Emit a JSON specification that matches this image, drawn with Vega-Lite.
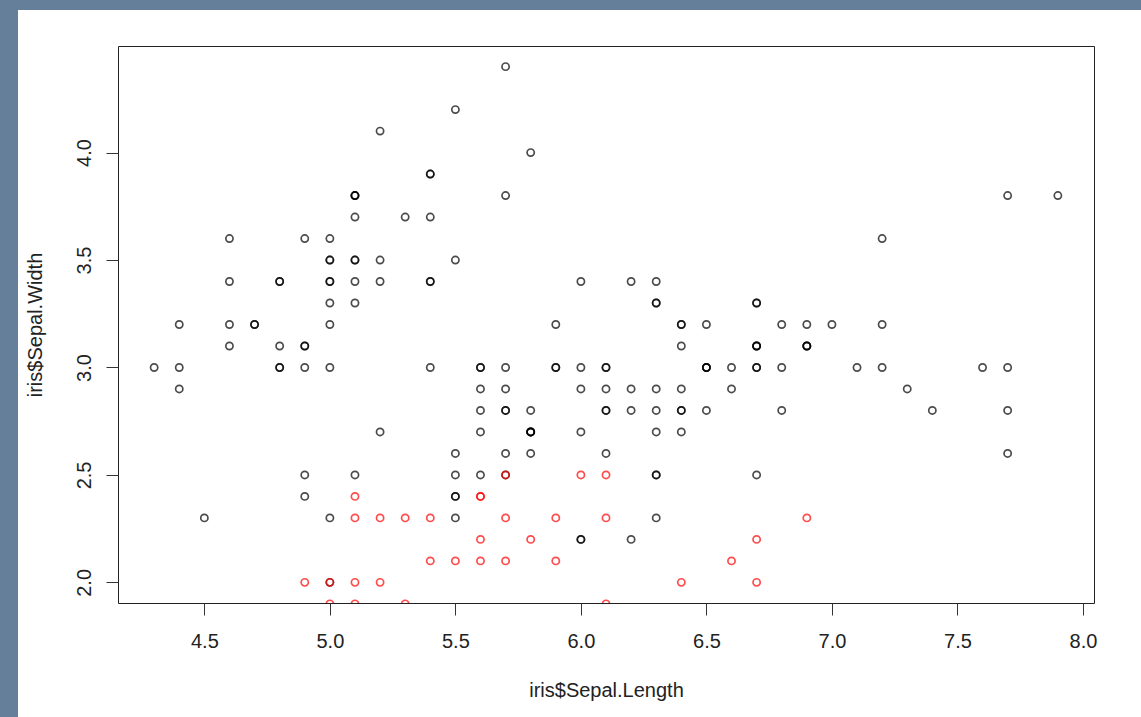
{
  "$schema": "https://vega.github.io/schema/vega-lite/v6.json",
  "padding": 0,
  "background": "#ffffff",
  "spacing": 0,
  "config": {"font": "Liberation Sans"},
  "datasets": {
    "pts": [
      {"x":5.1,"y":3.5,"g":"k"},{"x":4.9,"y":3.0,"g":"k"},{"x":4.7,"y":3.2,"g":"k"},{"x":4.6,"y":3.1,"g":"k"},{"x":5.0,"y":3.6,"g":"k"},
      {"x":5.4,"y":3.9,"g":"k"},{"x":4.6,"y":3.4,"g":"k"},{"x":5.0,"y":3.4,"g":"k"},{"x":4.4,"y":2.9,"g":"k"},{"x":4.9,"y":3.1,"g":"k"},
      {"x":5.4,"y":3.7,"g":"k"},{"x":4.8,"y":3.4,"g":"k"},{"x":4.8,"y":3.0,"g":"k"},{"x":4.3,"y":3.0,"g":"k"},{"x":5.8,"y":4.0,"g":"k"},
      {"x":5.7,"y":4.4,"g":"k"},{"x":5.4,"y":3.9,"g":"k"},{"x":5.1,"y":3.5,"g":"k"},{"x":5.7,"y":3.8,"g":"k"},{"x":5.1,"y":3.8,"g":"k"},
      {"x":5.4,"y":3.4,"g":"k"},{"x":5.1,"y":3.7,"g":"k"},{"x":4.6,"y":3.6,"g":"k"},{"x":5.1,"y":3.3,"g":"k"},{"x":4.8,"y":3.4,"g":"k"},
      {"x":5.0,"y":3.0,"g":"k"},{"x":5.0,"y":3.4,"g":"k"},{"x":5.2,"y":3.5,"g":"k"},{"x":5.2,"y":3.4,"g":"k"},{"x":4.7,"y":3.2,"g":"k"},
      {"x":4.8,"y":3.1,"g":"k"},{"x":5.4,"y":3.4,"g":"k"},{"x":5.2,"y":4.1,"g":"k"},{"x":5.5,"y":4.2,"g":"k"},{"x":4.9,"y":3.1,"g":"k"},
      {"x":5.0,"y":3.2,"g":"k"},{"x":5.5,"y":3.5,"g":"k"},{"x":4.9,"y":3.6,"g":"k"},{"x":4.4,"y":3.0,"g":"k"},{"x":5.1,"y":3.4,"g":"k"},
      {"x":5.0,"y":3.5,"g":"k"},{"x":4.5,"y":2.3,"g":"k"},{"x":4.4,"y":3.2,"g":"k"},{"x":5.0,"y":3.5,"g":"k"},{"x":5.1,"y":3.8,"g":"k"},
      {"x":4.8,"y":3.0,"g":"k"},{"x":5.1,"y":3.8,"g":"k"},{"x":4.6,"y":3.2,"g":"k"},{"x":5.3,"y":3.7,"g":"k"},{"x":5.0,"y":3.3,"g":"k"},
      {"x":7.0,"y":3.2,"g":"k"},{"x":6.4,"y":3.2,"g":"k"},{"x":6.9,"y":3.1,"g":"k"},{"x":5.5,"y":2.3,"g":"k"},{"x":6.5,"y":2.8,"g":"k"},
      {"x":5.7,"y":2.8,"g":"k"},{"x":6.3,"y":3.3,"g":"k"},{"x":4.9,"y":2.4,"g":"k"},{"x":6.6,"y":2.9,"g":"k"},{"x":5.2,"y":2.7,"g":"k"},
      {"x":5.0,"y":2.0,"g":"k"},{"x":5.9,"y":3.0,"g":"k"},{"x":6.0,"y":2.2,"g":"k"},{"x":6.1,"y":2.9,"g":"k"},{"x":5.6,"y":2.9,"g":"k"},
      {"x":6.7,"y":3.1,"g":"k"},{"x":5.6,"y":3.0,"g":"k"},{"x":5.8,"y":2.7,"g":"k"},{"x":6.2,"y":2.2,"g":"k"},{"x":5.6,"y":2.5,"g":"k"},
      {"x":5.9,"y":3.2,"g":"k"},{"x":6.1,"y":2.8,"g":"k"},{"x":6.3,"y":2.5,"g":"k"},{"x":6.1,"y":2.8,"g":"k"},{"x":6.4,"y":2.9,"g":"k"},
      {"x":6.6,"y":3.0,"g":"k"},{"x":6.8,"y":2.8,"g":"k"},{"x":6.7,"y":3.0,"g":"k"},{"x":6.0,"y":2.9,"g":"k"},{"x":5.7,"y":2.6,"g":"k"},
      {"x":5.5,"y":2.4,"g":"k"},{"x":5.5,"y":2.4,"g":"k"},{"x":5.8,"y":2.7,"g":"k"},{"x":6.0,"y":2.7,"g":"k"},{"x":5.4,"y":3.0,"g":"k"},
      {"x":6.0,"y":3.4,"g":"k"},{"x":6.7,"y":3.1,"g":"k"},{"x":6.3,"y":2.3,"g":"k"},{"x":5.6,"y":3.0,"g":"k"},{"x":5.5,"y":2.5,"g":"k"},
      {"x":5.5,"y":2.6,"g":"k"},{"x":6.1,"y":3.0,"g":"k"},{"x":5.8,"y":2.6,"g":"k"},{"x":5.0,"y":2.3,"g":"k"},{"x":5.6,"y":2.7,"g":"k"},
      {"x":5.7,"y":3.0,"g":"k"},{"x":5.7,"y":2.9,"g":"k"},{"x":6.2,"y":2.9,"g":"k"},{"x":5.1,"y":2.5,"g":"k"},{"x":5.7,"y":2.8,"g":"k"},
      {"x":6.3,"y":3.3,"g":"k"},{"x":5.8,"y":2.7,"g":"k"},{"x":7.1,"y":3.0,"g":"k"},{"x":6.3,"y":2.9,"g":"k"},{"x":6.5,"y":3.0,"g":"k"},
      {"x":7.6,"y":3.0,"g":"k"},{"x":4.9,"y":2.5,"g":"k"},{"x":7.3,"y":2.9,"g":"k"},{"x":6.7,"y":2.5,"g":"k"},{"x":7.2,"y":3.6,"g":"k"},
      {"x":6.5,"y":3.2,"g":"k"},{"x":6.4,"y":2.7,"g":"k"},{"x":6.8,"y":3.0,"g":"k"},{"x":5.7,"y":2.5,"g":"k"},{"x":5.8,"y":2.8,"g":"k"},
      {"x":6.4,"y":3.2,"g":"k"},{"x":6.5,"y":3.0,"g":"k"},{"x":7.7,"y":3.8,"g":"k"},{"x":7.7,"y":2.6,"g":"k"},{"x":6.0,"y":2.2,"g":"k"},
      {"x":6.9,"y":3.2,"g":"k"},{"x":5.6,"y":2.8,"g":"k"},{"x":7.7,"y":2.8,"g":"k"},{"x":6.3,"y":2.7,"g":"k"},{"x":6.7,"y":3.3,"g":"k"},
      {"x":7.2,"y":3.2,"g":"k"},{"x":6.2,"y":2.8,"g":"k"},{"x":6.1,"y":3.0,"g":"k"},{"x":6.4,"y":2.8,"g":"k"},{"x":7.2,"y":3.0,"g":"k"},
      {"x":7.4,"y":2.8,"g":"k"},{"x":7.9,"y":3.8,"g":"k"},{"x":6.4,"y":2.8,"g":"k"},{"x":6.3,"y":2.8,"g":"k"},{"x":6.1,"y":2.6,"g":"k"},
      {"x":7.7,"y":3.0,"g":"k"},{"x":6.3,"y":3.4,"g":"k"},{"x":6.4,"y":3.1,"g":"k"},{"x":6.0,"y":3.0,"g":"k"},{"x":6.9,"y":3.1,"g":"k"},
      {"x":6.7,"y":3.1,"g":"k"},{"x":6.9,"y":3.1,"g":"k"},{"x":5.8,"y":2.7,"g":"k"},{"x":6.8,"y":3.2,"g":"k"},{"x":6.7,"y":3.3,"g":"k"},
      {"x":6.7,"y":3.0,"g":"k"},{"x":6.3,"y":2.5,"g":"k"},{"x":6.5,"y":3.0,"g":"k"},{"x":6.2,"y":3.4,"g":"k"},{"x":5.9,"y":3.0,"g":"k"},
      {"x":4.9,"y":2.0,"g":"r"},{"x":5.0,"y":2.0,"g":"r"},{"x":5.0,"y":1.9,"g":"r"},{"x":5.1,"y":2.4,"g":"r"},{"x":5.1,"y":2.3,"g":"r"},
      {"x":5.1,"y":2.0,"g":"r"},{"x":5.1,"y":1.9,"g":"r"},{"x":5.2,"y":2.3,"g":"r"},{"x":5.2,"y":2.0,"g":"r"},{"x":5.3,"y":2.3,"g":"r"},
      {"x":5.3,"y":1.9,"g":"r"},{"x":5.4,"y":2.3,"g":"r"},{"x":5.4,"y":2.1,"g":"r"},{"x":5.5,"y":2.1,"g":"r"},{"x":5.6,"y":2.4,"g":"r"},
      {"x":5.6,"y":2.4,"g":"r"},{"x":5.6,"y":2.2,"g":"r"},{"x":5.6,"y":2.1,"g":"r"},{"x":5.7,"y":2.5,"g":"r"},{"x":5.7,"y":2.3,"g":"r"},
      {"x":5.7,"y":2.1,"g":"r"},{"x":5.8,"y":2.2,"g":"r"},{"x":5.9,"y":2.3,"g":"r"},{"x":5.9,"y":2.1,"g":"r"},{"x":6.0,"y":2.5,"g":"r"},
      {"x":6.1,"y":2.5,"g":"r"},{"x":6.1,"y":2.3,"g":"r"},{"x":6.1,"y":1.9,"g":"r"},{"x":6.4,"y":2.0,"g":"r"},{"x":6.6,"y":2.1,"g":"r"},
      {"x":6.7,"y":2.2,"g":"r"},{"x":6.7,"y":2.0,"g":"r"},{"x":6.9,"y":2.3,"g":"r"}
    ]
  },
  "vconcat": [
    {
      "width": 1141,
      "height": 10,
      "data": {"values": []},
      "mark": "point",
      "view": {"fill": "#657f9b", "stroke": null}
    },
    {
      "spacing": 6,
      "hconcat": [
        {
          "width": 18,
          "height": 707,
          "data": {"values": []},
          "mark": "point",
          "view": {"fill": "#657f9b", "stroke": null}
        },
        {
          "spacing": 0,
          "vconcat": [
            {
              "width": 10,
              "height": 35,
              "data": {"values": []},
              "mark": "point",
              "view": {"fill": null, "stroke": null}
            },
            {
              "width": 976,
              "height": 557,
              "data": {"name": "pts"},
              "view": {"stroke": "#222222", "strokeWidth": 1, "fill": null},
              "mark": {"type": "point", "shape": "circle", "filled": false, "size": 52, "strokeWidth": 1.7, "opacity": 0.7, "clip": true},
              "encoding": {
                "x": {
                  "field": "x", "type": "quantitative",
                  "scale": {"domain": [4.156, 8.044], "nice": false, "zero": false},
                  "axis": {
                    "title": "iris$Sepal.Length", "values": [4.5, 5, 5.5, 6, 6.5, 7, 7.5, 8], "format": ".1f",
                    "domain": false, "grid": false, "tickSize": 12, "tickColor": "#333333", "tickWidth": 1,
                    "labelPadding": 16, "labelFontSize": 20, "labelFont": "Liberation Sans", "labelColor": "#222222",
                    "labelFlush": false, "labelOverlap": false, "labelBaseline": "top",
                    "titleFont": "Liberation Sans", "titleFontSize": 20, "titleFontWeight": "normal", "titleColor": "#222222",
                    "titleBaseline": "top", "titlePadding": 29, "minExtent": 48, "maxExtent": 48
                  }
                },
                "y": {
                  "field": "y", "type": "quantitative",
                  "scale": {"domain": [1.904, 4.496], "nice": false, "zero": false},
                  "axis": {
                    "title": "iris$Sepal.Width", "values": [2, 2.5, 3, 3.5, 4], "format": ".1f",
                    "domain": false, "grid": false, "tickSize": 12, "tickColor": "#333333", "tickWidth": 1,
                    "labelAngle": 270, "labelAlign": "center", "labelBaseline": "bottom",
                    "labelPadding": 12, "labelFontSize": 20, "labelFont": "Liberation Sans", "labelColor": "#222222",
                    "labelFlush": false, "labelOverlap": false,
                    "titleFont": "Liberation Sans", "titleFontSize": 20, "titleFontWeight": "normal", "titleColor": "#222222",
                    "titleAngle": 270, "titleBaseline": "bottom", "titlePadding": 29, "minExtent": 44, "maxExtent": 44
                  }
                },
                "color": {
                  "field": "g", "type": "nominal",
                  "scale": {"domain": ["k", "r"], "range": ["#000000", "#ff0000"]},
                  "legend": null
                }
              }
            }
          ]
        }
      ]
    }
  ]
}
